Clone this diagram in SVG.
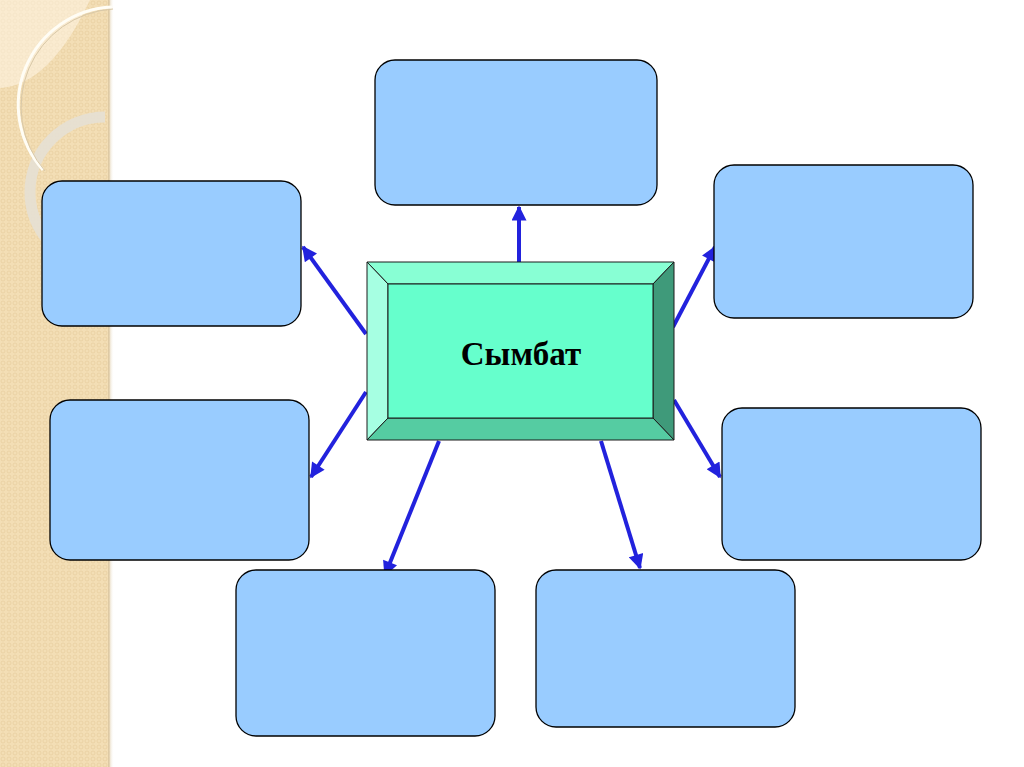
<svg xmlns="http://www.w3.org/2000/svg" width="1024" height="767" viewBox="0 0 1024 767">
<style>
.box{fill:#99CCFF;stroke:#000;stroke-width:1.3}
.conn{stroke:#2222DD;stroke-width:4;fill:none;marker-end:url(#ah)}
.bev{stroke:#1a1a1a;stroke-width:1}
</style>
<defs>
<pattern id="dots" width="6" height="6" patternUnits="userSpaceOnUse">
<rect width="6" height="6" fill="#F3DEB5"/>
<circle cx="3" cy="3" r="2" fill="none" stroke="#E9CFA0" stroke-width="0.8"/>
</pattern>
<linearGradient id="shadow" x1="0" x2="1" y1="0" y2="0">
<stop offset="0" stop-color="#D9C39A"/>
<stop offset="1" stop-color="#FFFFFF" stop-opacity="0"/>
</linearGradient>
<marker id="ah" viewBox="0 0 10 10" refX="9" refY="5" markerWidth="18" markerHeight="15" markerUnits="userSpaceOnUse" orient="auto">
<path d="M0,0 L10,5 L0,10 z" fill="#2222DD"/>
</marker>
</defs>
<rect width="1024" height="767" fill="#FFFFFF"/>
<g id="background">
<rect x="0" y="0" width="110" height="767" fill="url(#dots)"/>
<rect x="108" y="0" width="6" height="767" fill="url(#shadow)"/>
<path d="M0,88 Q50,85 90,0 L0,0 z" fill="#FFF6E6" opacity="0.55"/>
<path d="M105,117 A75,75 0 0 0 30,192 A75,75 0 0 0 45,237" fill="none" stroke="#E6E0D4" stroke-width="11" opacity="0.9"/>
<path d="M112,7 A98,98 0 0 0 43,170" fill="none" stroke="#FFFDF5" stroke-width="3"/>
<path d="M113,9 A98,98 0 0 0 45,171" fill="none" stroke="#D8C8A8" stroke-width="1"/>
</g>
<g id="connectors">
<line class="conn" x1="519" y1="262" x2="519" y2="207"/>
<line class="conn" x1="366" y1="334" x2="303" y2="247"/>
<line class="conn" x1="673" y1="327" x2="715" y2="247"/>
<line class="conn" x1="366" y1="392" x2="311" y2="477"/>
<line class="conn" x1="674" y1="400" x2="720" y2="477"/>
<line class="conn" x1="439" y1="441" x2="385" y2="575"/>
<line class="conn" x1="601" y1="441" x2="640" y2="568"/>
</g>
<g id="node-top"><rect class="box" x="375" y="60" width="282" height="145" rx="20"/></g>
<g id="node-left-top"><rect class="box" x="42" y="181" width="259" height="145" rx="20"/></g>
<g id="node-right-top"><rect class="box" x="714" y="165" width="259" height="153" rx="20"/></g>
<g id="node-left-mid"><rect class="box" x="50" y="400" width="259" height="160" rx="20"/></g>
<g id="node-right-mid"><rect class="box" x="722" y="408" width="259" height="152" rx="20"/></g>
<g id="node-bottom-left"><rect class="box" x="236" y="570" width="259" height="166" rx="20"/></g>
<g id="node-bottom-right"><rect class="box" x="536" y="570" width="259" height="157" rx="20"/></g>
<g id="node-center">
<polygon class="bev" points="367,262 674,262 653,284 388,284" fill="#88FFD4"/>
<polygon class="bev" points="367,262 388,284 388,418 367,440" fill="#A6FFE2"/>
<polygon class="bev" points="674,262 674,440 653,418 653,284" fill="#3F9A7A"/>
<polygon class="bev" points="367,440 388,418 653,418 674,440" fill="#55CCA2"/>
<rect x="388" y="284" width="265" height="134" fill="#66FFCC" stroke="#1a1a1a" stroke-width="1"/>
<text x="521" y="365" text-anchor="middle" font-family="Liberation Serif, serif" font-weight="bold" font-size="33" fill="#000">Сымбат</text>
</g>
</svg>
